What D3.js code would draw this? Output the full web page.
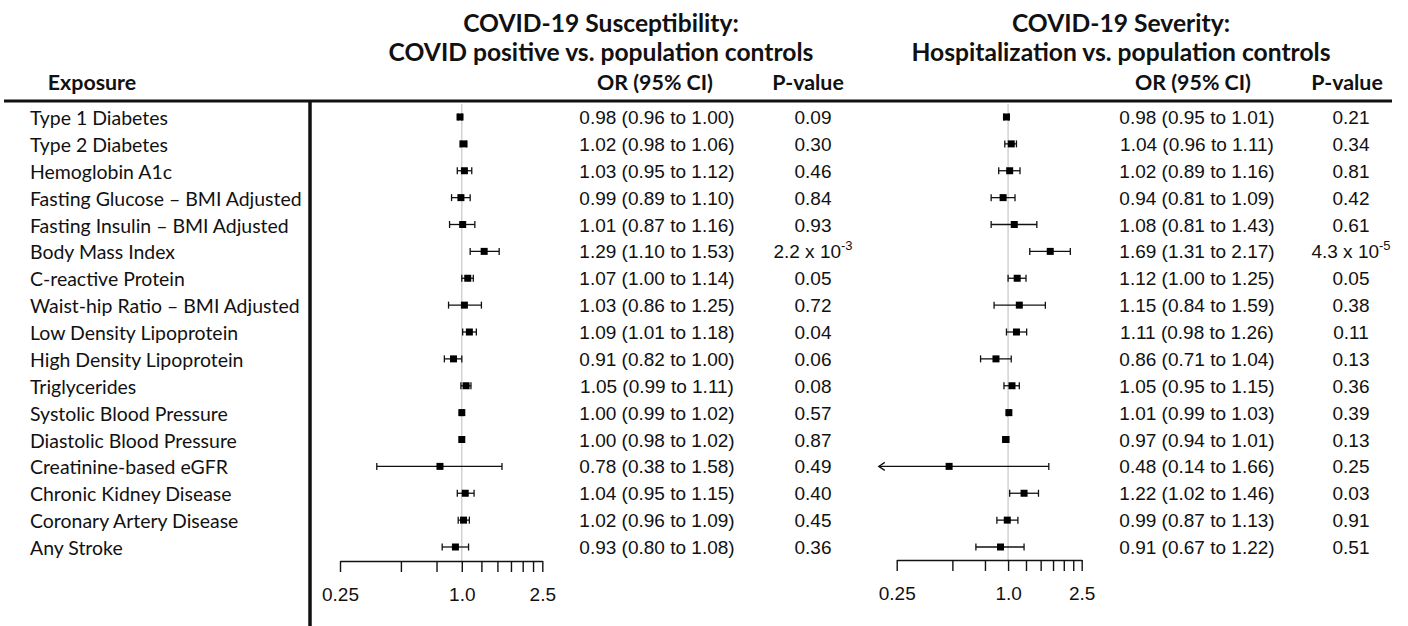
<!DOCTYPE html>
<html>
<head>
<meta charset="utf-8">
<script src="https://cdn.jsdelivr.net/npm/d3@7/dist/d3.min.js"></script>
<style>
  body { margin: 0; background: #fff; }
  svg { display: block; }
</style>
</head>
<body>
<div id="chart"></div>
<script>
// Exposures (rows, top to bottom)
const exposures = [
    'Type 1 Diabetes', 'Type 2 Diabetes', 'Hemoglobin A1c',
    'Fasting Glucose \u2013 BMI Adjusted', 'Fasting Insulin \u2013 BMI Adjusted',
    'Body Mass Index', 'C-reactive Protein', 'Waist-hip Ratio \u2013 BMI Adjusted',
    'Low Density Lipoprotein', 'High Density Lipoprotein', 'Triglycerides',
    'Systolic Blood Pressure', 'Diastolic Blood Pressure', 'Creatinine-based eGFR',
    'Chronic Kidney Disease', 'Coronary Artery Disease', 'Any Stroke'
];

// COVID-19 susceptibility: COVID positive vs. population controls
const suscOR = [0.98, 1.02, 1.03, 0.99, 1.01, 1.29, 1.07, 1.03, 1.09, 0.91, 1.05, 1.00, 1.00, 0.78, 1.04, 1.02, 0.93];
const suscLo = [0.96, 0.98, 0.95, 0.89, 0.87, 1.10, 1.00, 0.86, 1.01, 0.82, 0.99, 0.99, 0.98, 0.38, 0.95, 0.96, 0.80];
const suscHi = [1.00, 1.06, 1.12, 1.10, 1.16, 1.53, 1.14, 1.25, 1.18, 1.00, 1.11, 1.02, 1.02, 1.58, 1.15, 1.09, 1.08];
const suscP  = [0.09, 0.30, 0.46, 0.84, 0.93, 0.0022, 0.05, 0.72, 0.04, 0.06, 0.08, 0.57, 0.87, 0.49, 0.40, 0.45, 0.36];

// COVID-19 severity: hospitalization vs. population controls
const sevOR = [0.98, 1.04, 1.02, 0.94, 1.08, 1.69, 1.12, 1.15, 1.11, 0.86, 1.05, 1.01, 0.97, 0.48, 1.22, 0.99, 0.91];
const sevLo = [0.95, 0.96, 0.89, 0.81, 0.81, 1.31, 1.00, 0.84, 0.98, 0.71, 0.95, 0.99, 0.94, 0.14, 1.02, 0.87, 0.67];
const sevHi = [1.01, 1.11, 1.16, 1.09, 1.43, 2.17, 1.25, 1.59, 1.26, 1.04, 1.15, 1.03, 1.01, 1.66, 1.46, 1.13, 1.22];
const sevP  = [0.21, 0.34, 0.81, 0.42, 0.61, 0.000043, 0.05, 0.38, 0.11, 0.13, 0.36, 0.39, 0.13, 0.25, 0.03, 0.91, 0.51];

// Axis ticks (log scale) and which of them carry a label
const axisTicks = [0.25, 0.5, 0.75, 1.0, 1.25, 1.5, 1.75, 2.0, 2.25, 2.5];
const tickLabelValues = [0.25, 1.0, 2.5];
const tickLabels = ['0.25', '1.0', '2.5'];

const width = 1408;
const height = 626;
const ink = '#111';
const headFont = 'Lato, "Open Sans", sans-serif';
const valueFont = '"Liberation Sans", Arial, sans-serif';

const svg = d3.select('#chart').append('svg')
    .attr('width', width)
    .attr('height', height);

svg.append('rect').attr('width', width).attr('height', height).attr('fill', '#fff');

// Row positions
const y = d3.scalePoint().domain(exposures).range([117, 547]);

// scale a text's font size so that it takes a given width
function fitWidth(sel, target) {
    const w = sel.node().getComputedTextLength();
    const fs = parseFloat(sel.attr('font-size'));
    return fs * target / w;
}

// Left column: exposure labels
const labelProbe = svg.append('text').attr('font-family', headFont).attr('font-size', 20).text(exposures[0]);
const labelSize = fitWidth(labelProbe, 138);
labelProbe.remove();

svg.append('g').selectAll('text')
    .data(exposures)
    .enter().append('text')
    .attr('x', 30)
    .attr('y', d => y(d) + 8)
    .attr('font-family', headFont)
    .attr('font-size', labelSize)
    .attr('fill', ink)
    .text(d => d);

// Header sizes
const headProbe = svg.append('text').attr('font-family', headFont).attr('font-weight', 700).attr('font-size', 24).text('OR (95% CI)');
const headSize = fitWidth(headProbe, 116);
headProbe.remove();
const titleProbe = svg.append('text').attr('font-family', headFont).attr('font-weight', 700).attr('font-size', 26).text('COVID positive vs. population controls');
const titleSize = fitWidth(titleProbe, 425);
titleProbe.remove();

function header(x, yy, txt, size) {
    svg.append('text')
        .attr('x', x).attr('y', yy)
        .attr('text-anchor', 'middle')
        .attr('font-family', headFont)
        .attr('font-weight', 700)
        .attr('font-size', size)
        .attr('fill', ink)
        .text(txt);
}

header(92, 90, 'Exposure', headSize);

// Table frame
svg.append('line')
    .attr('x1', 4).attr('x2', 1392).attr('y1', 101).attr('y2', 101)
    .attr('stroke', ink).attr('stroke-width', 3);
svg.append('line')
    .attr('x1', 310).attr('x2', 310).attr('y1', 100).attr('y2', height)
    .attr('stroke', ink).attr('stroke-width', 3.5);

function fmtP(sel, p) {
    if (p >= 0.01) {
        sel.text(p.toFixed(2));
    } else {
        const e = Math.floor(Math.log10(p));
        const m = p / Math.pow(10, e);
        sel.text(`${m.toFixed(1)} x 10`);
        sel.append('tspan')
            .attr('dy', -8)
            .attr('font-size', 13)
            .text(`${e}`);
    }
}

const panels = [
    {
        title: ['COVID-19 Susceptibility:', 'COVID positive vs. population controls'],
        titleX: 601, range: [340, 542.3], axisY: 561,
        orX: 657, pX: 813, orHeadX: 655, pHeadX: 808,
        or: suscOR, lo: suscLo, hi: suscHi, p: suscP
    },
    {
        title: ['COVID-19 Severity:', 'Hospitalization vs. population controls'],
        titleX: 1121, range: [896.7, 1081.7], axisY: 560,
        orX: 1197, pX: 1351, orHeadX: 1193, pHeadX: 1347,
        or: sevOR, lo: sevLo, hi: sevHi, p: sevP
    }
];

panels.forEach(pn => {
    const x = d3.scaleLog().domain([0.25, 2.5]).range(pn.range);
    const arrowMin = 0.2; // CIs below the axis are cut here and drawn as an arrow

    header(pn.titleX, 32, pn.title[0], titleSize);
    header(pn.titleX, 61, pn.title[1], titleSize);
    header(pn.orHeadX, 90, 'OR (95% CI)', headSize);
    header(pn.pHeadX, 90, 'P-value', headSize);

    const g = svg.append('g');

    // reference line at OR = 1
    g.append('line')
        .attr('x1', x(1)).attr('x2', x(1))
        .attr('y1', 104).attr('y2', pn.axisY)
        .attr('stroke', '#c8c8c8').attr('stroke-width', 1.2);

    const rows = g.selectAll('g.row')
        .data(exposures.map((e, i) => ({ name: e, or: pn.or[i], lo: pn.lo[i], hi: pn.hi[i], p: pn.p[i] })))
        .enter().append('g')
        .attr('class', 'row')
        .attr('transform', d => `translate(0, ${y(d.name)})`);

    // CI lines
    rows.append('line')
        .attr('x1', d => x(Math.max(d.lo, arrowMin)))
        .attr('x2', d => x(d.hi))
        .attr('stroke', ink).attr('stroke-width', 1.3);

    // caps
    rows.each(function(d) {
        const r = d3.select(this);
        const ends = [d.hi];
        if (d.lo >= arrowMin && d.lo >= 0.25) ends.push(d.lo);
        ends.forEach(v => {
            r.append('line')
                .attr('x1', x(v)).attr('x2', x(v))
                .attr('y1', -3.5).attr('y2', 3.5)
                .attr('stroke', ink).attr('stroke-width', 1.3);
        });
        if (d.lo < 0.25) {
            const tx = x(arrowMin);
            r.append('path')
                .attr('d', `M${tx + 6},-4 L${tx},0 L${tx + 6},4`)
                .attr('fill', 'none')
                .attr('stroke', ink).attr('stroke-width', 1.3);
        }
    });

    // point estimates
    rows.append('rect')
        .attr('x', d => x(d.or) - 3.5)
        .attr('y', -3.5)
        .attr('width', 7).attr('height', 7)
        .attr('fill', '#000');

    // OR (95% CI) text
    rows.append('text')
        .attr('x', pn.orX)
        .attr('y', 7)
        .attr('text-anchor', 'middle')
        .attr('font-family', valueFont)
        .attr('font-size', 19)
        .attr('fill', ink)
        .text(d => `${d.or.toFixed(2)} (${d.lo.toFixed(2)} to ${d.hi.toFixed(2)})`);

    // P-value text
    rows.append('text')
        .attr('x', pn.pX)
        .attr('y', 7)
        .attr('text-anchor', 'middle')
        .attr('font-family', valueFont)
        .attr('font-size', 19)
        .attr('fill', ink)
        .each(function(d) { fmtP(d3.select(this), d.p); });

    // log axis
    const axis = d3.axisBottom(x)
        .tickValues(axisTicks)
        .tickSize(11)
        .tickSizeOuter(0)
        .tickPadding(16)
        .tickFormat(d => {
            const i = tickLabelValues.indexOf(d);
            return i >= 0 ? tickLabels[i] : '';
        });

    const ax = svg.append('g')
        .attr('transform', `translate(0, ${pn.axisY})`)
        .call(axis);
    ax.select('.domain').attr('stroke', ink).attr('stroke-width', 1.4);
    ax.selectAll('.tick line').attr('stroke', ink).attr('stroke-width', 1.4);
    ax.selectAll('.tick text')
        .attr('font-family', valueFont)
        .attr('font-size', 19)
        .attr('fill', ink);
});
</script>
</body>
</html>
